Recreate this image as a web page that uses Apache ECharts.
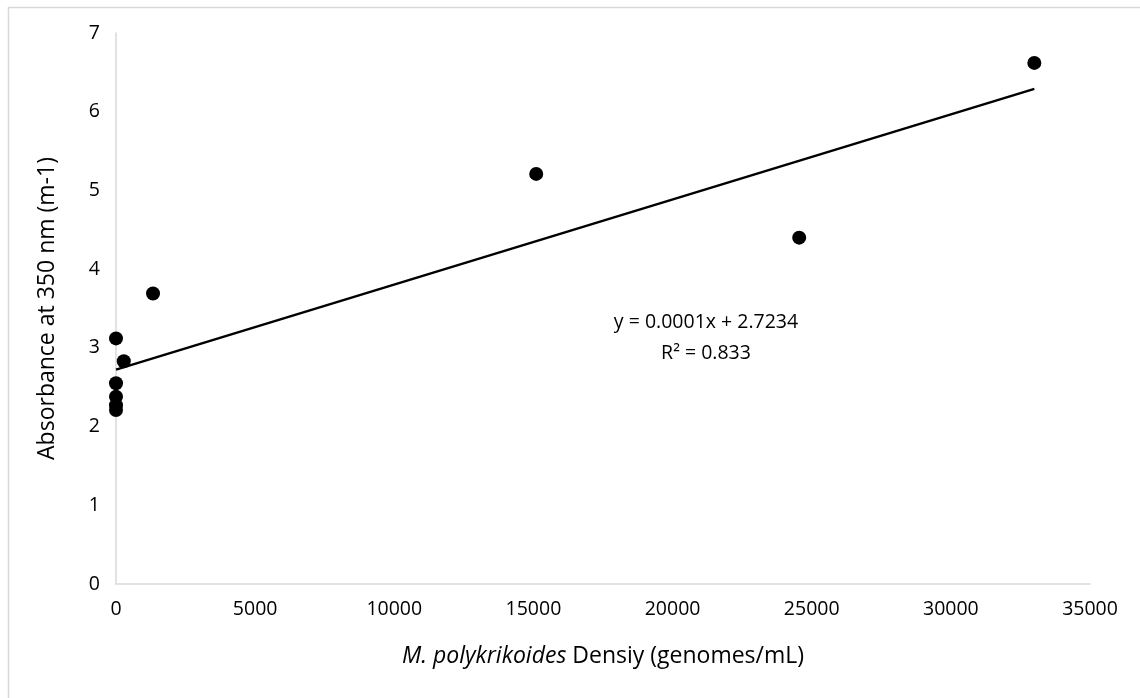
<!DOCTYPE html>
<html>
<head>
<meta charset="utf-8">
<script src="https://cdn.jsdelivr.net/npm/echarts@6/dist/echarts.min.js"></script>
<style>
html,body{margin:0;padding:0;background:#fff;}
#chart{width:1140px;height:698px;}
</style>
</head>
<body>
<div id="chart"></div>
<script>
// Data
var densityX = [0, 0, 0, 0, 0, 280, 1330, 15100, 24550, 33000];
var absorbanceY = [3.12, 2.55, 2.38, 2.27, 2.21, 2.83, 3.69, 5.21, 4.40, 6.62];
var trendX = [0, 33000];
var trendY = [2.7234, 6.29];
var xTicks = [0, 5000, 10000, 15000, 20000, 25000, 30000, 35000];
var yTicks = [0, 1, 2, 3, 4, 5, 6, 7];
var equationText = ['y = 0.0001x + 2.7234', 'R² = 0.833'];

var fontFam = '"Open Sans", "Noto Sans", sans-serif';
var chart = echarts.init(document.getElementById('chart'));
var pts = densityX.map(function (x, i) { return [x, absorbanceY[i]]; });
var trend = trendX.map(function (x, i) { return [x, trendY[i]]; });

chart.setOption({
  animation: false,
  backgroundColor: '#fff',
  grid: { left: 116, right: 50, top: 33, bottom: 114 },
  xAxis: {
    type: 'value', min: xTicks[0], max: xTicks[xTicks.length - 1], interval: 5000,
    axisLine: { show: true, lineStyle: { color: '#d9d9d9', width: 1.5 } },
    axisTick: { show: false },
    splitLine: { show: false },
    axisLabel: { color: '#000', fontSize: 19.5, fontFamily: fontFam, margin: 15,
      formatter: function (v) { return String(v); } },
    name: '{i|M. polykrikoides} Densiy (genomes/mL)',
    nameLocation: 'middle', nameGap: 61,
    nameTextStyle: {
      color: '#000', fontSize: 23, fontFamily: fontFam,
      rich: { i: { fontStyle: 'italic', fontSize: 23, fontFamily: fontFam, color: '#000' } }
    }
  },
  yAxis: {
    type: 'value', min: yTicks[0], max: yTicks[yTicks.length - 1], interval: 1,
    axisLine: { show: true, lineStyle: { color: '#d9d9d9', width: 1.5 } },
    axisTick: { show: false },
    splitLine: { show: false },
    axisLabel: { color: '#000', fontSize: 19.5, fontFamily: fontFam, margin: 16 },
    name: 'Absorbance at 350 nm (m-1)',
    nameLocation: 'middle', nameGap: 57,
    nameTextStyle: { color: '#000', fontSize: 23, fontFamily: fontFam }
  },
  series: [
    {
      type: 'line', data: trend, symbol: 'none', z: 2,
      lineStyle: { color: '#000', width: 2.5 }
    },
    {
      type: 'scatter', data: pts, symbol: 'circle', symbolSize: 14, z: 3,
      itemStyle: { color: '#000', opacity: 1 }
    }
  ],
  graphic: [
    {
      type: 'rect', left: 6, top: 5, z: -1,
      shape: { width: 1150, height: 710 },
      style: { fill: 'none', stroke: '#d9d9d9', lineWidth: 1.5 }
    },
    {
      type: 'text', x: 706, y: 322,
      style: { text: equationText[0], font: '19.5px ' + fontFam, fill: '#000',
        align: 'center', verticalAlign: 'middle' }
    },
    {
      type: 'text', x: 706, y: 353,
      style: { text: equationText[1], font: '19.5px ' + fontFam, fill: '#000',
        align: 'center', verticalAlign: 'middle' }
    }
  ]
});
</script>
</body>
</html>
